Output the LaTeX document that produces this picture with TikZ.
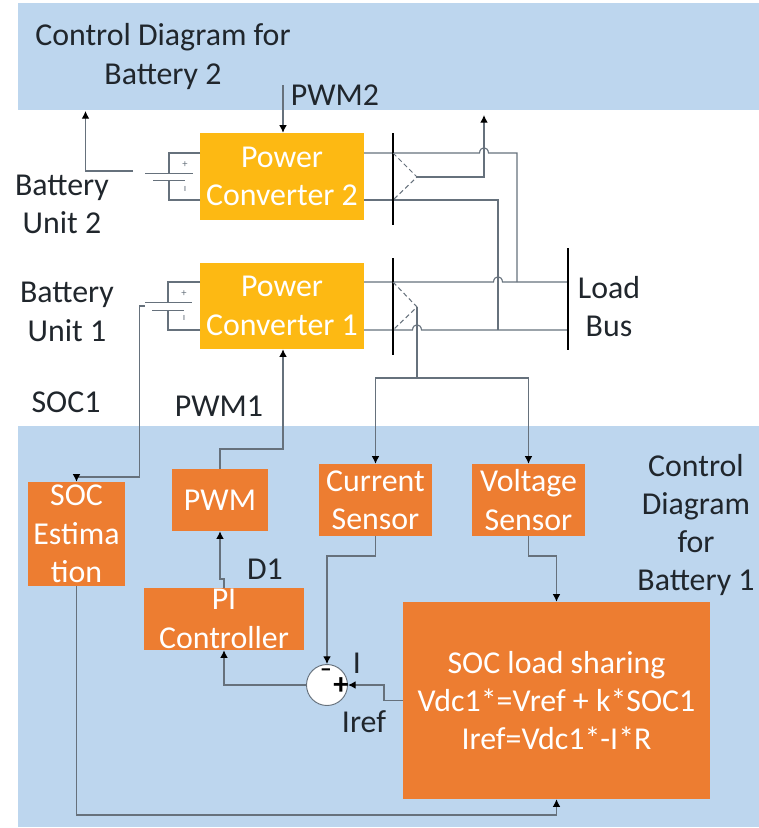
\documentclass[tikz,border=0pt]{standalone}
\usepackage{fontspec}
\setmainfont{Carlito}
\usetikzlibrary{arrows.meta}
\definecolor{bandblue}{HTML}{BDD6EE}
\definecolor{convyellow}{HTML}{FDB913}
\definecolor{ctrlorange}{HTML}{ED7D31}
\definecolor{wiregray}{HTML}{66717C}
\definecolor{labeldark}{HTML}{20262C}
\newcommand{\px}{0.03cm}
\tikzset{
  lbl/.style={text=labeldark,font=\fontsize{27.2}{32.7}\selectfont,align=center,inner sep=0pt},
  convbox/.style={fill=convyellow,text=white,font=\fontsize{27.2}{32.7}\selectfont,align=center,inner sep=0pt},
  ctrlbox/.style={fill=ctrlorange,text=white,font=\fontsize{27.2}{32.7}\selectfont,align=center,inner sep=0pt},
  wire/.style={draw=wiregray,line width=0.95pt},
  feed/.style={wire,-{Latex[length=6.5pt,width=6.5pt,black]}},
  bar/.style={draw=black,line width=1.7pt},
  tap/.style={draw=wiregray,line width=0.9pt,dashed,dash pattern=on 4pt off 2.5pt}
}
\begin{document}
\begin{tikzpicture}[x=\px,y=-\px]
  \useasboundingbox (0,0) rectangle (759,828);
  % Control bands
  \fill[bandblue] (17.5,3) rectangle (759,110);
  \fill[bandblue] (17.5,426) rectangle (759,827);
  % Power converters
  \node[convbox,minimum width=164*\px,minimum height=87*\px] (convtwo) at (282,176.5) {Power\\Converter 2};
  \node[convbox,minimum width=164*\px,minimum height=86*\px] (convone) at (282,306) {Power\\Converter 1};
  % Control blocks
  \node[ctrlbox,minimum width=97*\px,minimum height=104*\px] (socest) at (76.5,534) {SOC\\Estima\\t{}ion};
  \node[ctrlbox,minimum width=96*\px,minimum height=62*\px] (pwm) at (220,500) {PWM};
  \node[ctrlbox,minimum width=113*\px,minimum height=72*\px] (cursens) at (375.5,500) {Current\\Sensor};
  \node[ctrlbox,minimum width=113*\px,minimum height=72*\px] (voltsens) at (528.5,500) {Voltage\\Sensor};
  \node[ctrlbox,minimum width=160*\px,minimum height=62*\px] (picontrol) at (224,619) {PI\\Controller};
  \node[ctrlbox,minimum width=307*\px,minimum height=197*\px] (socshare) at (556.5,700.5) {SOC load sharing\\Vdc1*=Vref + k*SOC1\\Iref=Vdc1*-I*R};
  \node[circle,fill=white,draw=wiregray,line width=0.8pt,minimum size=41*\px,inner sep=0pt] (sumpt) at (327,685) {};
  \node[font=\bfseries\fontsize{20}{20}\selectfont,inner sep=0pt] (minussign) at (326,673) {--};
  \node[font=\bfseries\fontsize{26}{26}\selectfont,inner sep=0pt] (plussign) at (341,686) {+};
  % Labels
  \node[lbl] (ctrltwo) at (163,56.5) {Control Diagram for\\Battery 2};
  \node[lbl] (pwmtwo) at (335,95) {PWM2};
  \node[lbl] (battwo) at (62,204.5) {Battery\\Unit 2};
  \node[lbl] (batone) at (67,312) {Battery\\Unit 1};
  \node[lbl] (socone) at (66,402) {SOC1};
  \node[lbl] (pwmone) at (219,406) {PWM1};
  \node[lbl] (loadbus) at (609,306.5) {Load\\Bus};
  \node[lbl] (ctrlone) at (696,525) {Control\\Diagram\\for\\Battery 1};
  \node[lbl] (dutyone) at (265,569) {D1};
  \node[lbl] (curlbl) at (357,663) {I};
  \node[lbl] (ireflbl) at (364,722) {Iref};
  % Battery 2
  \coordinate (twopos) at (200,153);
  \coordinate (twoneg) at (200,200);
  \coordinate (twoplate) at (169,173);
  \coordinate (twominus) at (169,180.5);
  \draw[wire] (twopos) -| (twoplate);
  \draw[wire] (twoneg) -| (twominus);
  \draw[wire,line width=0.8pt] (145,173) -- (193,173);
  \draw[wire,line width=0.8pt] (153,180.5) -- (185,180.5);
  \node[font=\fontsize{9}{9}\selectfont,text=wiregray,inner sep=0pt] (twoplus) at (185,165) {+};
  \node[font=\fontsize{9}{9}\selectfont,text=wiregray,inner sep=0pt] (twomin) at (185,188.5) {ı};
  \coordinate (twofeed) at (133,171);
  \draw[feed] (twofeed) -| (85.5,111);
  % Battery 1
  \coordinate (onepos) at (200,282);
  \coordinate (oneneg) at (200,330);
  \coordinate (oneplate) at (168,302);
  \coordinate (oneminus) at (168,310);
  \draw[wire] (onepos) -| (oneplate);
  \draw[wire] (oneneg) -| (oneminus);
  \draw[wire,line width=0.8pt] (145,302) -- (192,302);
  \draw[wire,line width=0.8pt] (152,310) -- (184,310);
  \node[font=\fontsize{9}{9}\selectfont,text=wiregray,inner sep=0pt] (oneplus) at (184,294) {+};
  \node[font=\fontsize{9}{9}\selectfont,text=wiregray,inner sep=0pt] (onemin) at (184,318) {ı};
  % SOC1 feedback
  \coordinate (onetick) at (144.5,306);
  \draw[feed] (onetick) -- (139.5,306) -- (139.5,477) -| (socest.north);
  % Converter 2 to load bus
  \coordinate (busa) at (517,282);
  \coordinate (busb) at (498,330);
  \draw[wire] (convtwo.east |- twopos) -- (479.5,153) .. controls (480,146) and (488,146) .. (488.5,153) -| (busa);
  \draw[wire] (convtwo.east |- twoneg) -| (busb);
  % Converter 1 to load bus
  \coordinate (busup) at (568,282);
  \coordinate (buslow) at (568,330);
  \draw[wire] (convone.east |- onepos) -- (493.5,282) .. controls (494,275) and (502,275) .. (502.5,282) -- (busup);
  \draw[wire] (convone.east |- oneneg) -- (412.5,330) .. controls (413,323) and (421,323) .. (421.5,330) -- (buslow);
  % Breakers
  \draw[bar] (393,133) -- (393,225);
  \draw[bar] (393,258) -- (393,355);
  \draw[bar] (568,248) -- (568,350);
  % Measurement taps
  \coordinate (taptwo) at (417,177);
  \coordinate (tapone) at (417,307);
  \draw[tap] (393,153) -- (taptwo) -- (393,200);
  \draw[tap] (393,282) -- (tapone) -- (393,330);
  \draw[feed] (taptwo) -| (484,115);
  % Sensor feeds
  \coordinate (sensjoin) at (417,378);
  \draw[wire] (tapone) -- (sensjoin);
  \draw[feed] (sensjoin) -| (cursens.north);
  \draw[feed] (sensjoin) -| (voltsens.north);
  % Gate signals
  \coordinate (pwmtwotop) at (283,85);
  \draw[feed] (pwmtwotop) -- (convtwo.north -| pwmtwotop);
  \coordinate (pwmturn) at (283,449);
  \draw[feed] (pwm.north) |- (pwmturn) -- (convone.south -| pwmturn);
  % Control loop
  \coordinate (pijog) at (224,579);
  \draw[feed] (pijog |- picontrol.north) -- (pijog) -- (220,579) -- (pwm.south);
  \coordinate (curturn) at (375.5,556);
  \draw[feed] (cursens.south) -- (curturn) -| (sumpt.north);
  \coordinate (volturn) at (528.5,556);
  \draw[feed] (voltsens.south) -- (volturn) -| (socshare.north);
  \coordinate (irefout) at (403,700.5);
  \coordinate (irefturn) at (384,700.5);
  \draw[feed] (irefout) -- (irefturn) |- (sumpt.east);
  \draw[feed] (sumpt.west) -| (picontrol.south);
  \coordinate (socturn) at (76.5,815);
  \draw[feed] (socest.south) -- (socturn) -| (socshare.south);
\end{tikzpicture}
\end{document}
